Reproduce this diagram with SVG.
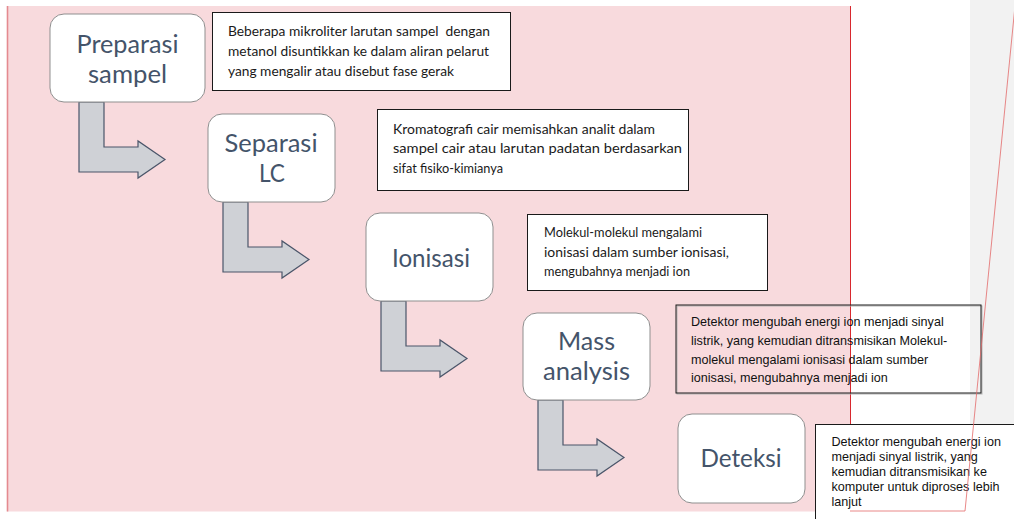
<svg xmlns="http://www.w3.org/2000/svg" xmlns:xlink="http://www.w3.org/1999/xlink" width="1014" height="519" viewBox="0 0 1014 519">
<defs>
<style>
.node{fill:#ffffff;stroke:#8f8f8f;stroke-width:1}
.lbl{font-family:Lato,"Open Sans",sans-serif;font-size:24.5px;fill:#44546a;text-anchor:middle}
.tb{fill:#ffffff;stroke:#1a1a1a;stroke-width:1}
.tc{font-family:Lato,"Open Sans",sans-serif;font-size:14px;fill:#1a1a1a}
.ta{font-family:"Liberation Sans",Arial,sans-serif;font-size:12.6px;fill:#111111}
.arr{fill:#cfd1d6;stroke:#4a5569;stroke-width:1.2;stroke-linejoin:miter}
</style>
<path id="bent" d="M0,0 H25 V45 H59 V39 L86,57.5 L59,76 V70 H0 Z"/>
</defs>
<rect x="0" y="0" width="1014" height="519" fill="#ffffff"/>
<rect x="970" y="0" width="44" height="424" fill="#f2f2f2"/>
<rect x="7" y="6" width="843" height="505.5" fill="#f8dadd"/>
<line x1="7.5" y1="6" x2="7.5" y2="511.5" stroke="#e48a90" stroke-width="1.6"/>
<line x1="850.5" y1="6" x2="850.5" y2="511" stroke="#d8282e" stroke-width="1"/>
<g id="connectors">
<use xlink:href="#bent" class="arr" transform="translate(79,102)"/>
<use xlink:href="#bent" class="arr" transform="translate(223,202)"/>
<use xlink:href="#bent" class="arr" transform="translate(381,301)"/>
<use xlink:href="#bent" class="arr" transform="translate(538,400)"/>
</g>
<g id="n1">
<rect class="node" x="50" y="14" width="155" height="88" rx="14"/>
<text class="lbl" x="127.5" y="53" textLength="102" lengthAdjust="spacingAndGlyphs">Preparasi</text>
<text class="lbl" x="127.5" y="83" textLength="79" lengthAdjust="spacingAndGlyphs">sampel</text>
</g>
<g id="n2">
<rect class="node" x="208" y="114" width="127" height="88" rx="14"/>
<text class="lbl" x="271" y="152" textLength="93" lengthAdjust="spacingAndGlyphs">Separasi</text>
<text class="lbl" x="272" y="182" textLength="26" lengthAdjust="spacingAndGlyphs">LC</text>
</g>
<g id="n3">
<rect class="node" x="366" y="213" width="127" height="88" rx="14"/>
<text class="lbl" x="431" y="267" textLength="78" lengthAdjust="spacingAndGlyphs">Ionisasi</text>
</g>
<g id="n4">
<rect class="node" x="523" y="313" width="127" height="87" rx="14"/>
<text class="lbl" x="586.5" y="350" textLength="57" lengthAdjust="spacingAndGlyphs">Mass</text>
<text class="lbl" x="586.5" y="380" textLength="87" lengthAdjust="spacingAndGlyphs">analysis</text>
</g>
<g id="n5">
<rect class="node" x="678" y="414" width="127" height="89" rx="14"/>
<text class="lbl" x="741" y="466.5" textLength="81" lengthAdjust="spacingAndGlyphs">Deteksi</text>
</g>
<g id="t1">
<rect class="tb" x="212.5" y="12.5" width="298" height="78"/>
<text class="tc" x="228" y="36" textLength="262" lengthAdjust="spacingAndGlyphs" xml:space="preserve">Beberapa mikroliter larutan sampel  dengan</text>
<text class="tc" x="228" y="55.5" textLength="261" lengthAdjust="spacingAndGlyphs">metanol disuntikkan ke dalam aliran pelarut</text>
<text class="tc" x="228" y="75.5" textLength="226" lengthAdjust="spacingAndGlyphs">yang mengalir atau disebut fase gerak</text>
</g>
<g id="t2">
<rect class="tb" x="377.5" y="109.5" width="311" height="81"/>
<text class="tc" x="393" y="134" textLength="262" lengthAdjust="spacingAndGlyphs">Kromatografi cair memisahkan analit dalam</text>
<text class="tc" x="393" y="153" textLength="289" lengthAdjust="spacingAndGlyphs">sampel cair atau larutan padatan berdasarkan</text>
<text class="tc" x="393" y="172.5" textLength="110" lengthAdjust="spacingAndGlyphs">sifat fisiko-kimianya</text>
</g>
<g id="t3">
<rect class="tb" x="527.5" y="214.5" width="240" height="76"/>
<text class="tc" x="544" y="237" textLength="158" lengthAdjust="spacingAndGlyphs">Molekul-molekul mengalami</text>
<text class="tc" x="544" y="256.5" textLength="185" lengthAdjust="spacingAndGlyphs">ionisasi dalam sumber ionisasi,</text>
<text class="tc" x="544" y="275.5" textLength="146" lengthAdjust="spacingAndGlyphs">mengubahnya menjadi ion</text>
</g>
<g id="t4">
<rect x="677" y="306" width="305" height="88" fill="none" stroke="#b4b4b4" stroke-width="1"/>
<rect x="676" y="305" width="305" height="88" fill="none" stroke="#1a1a1a" stroke-width="1"/>
<text class="ta" x="691" y="326">Detektor mengubah energi ion menjadi sinyal</text>
<text class="ta" x="691" y="344.5">listrik, yang kemudian ditransmisikan Molekul-</text>
<text class="ta" x="691" y="364">molekul mengalami ionisasi dalam sumber</text>
<text class="ta" x="691" y="382">ionisasi, mengubahnya menjadi ion</text>
</g>
<g id="t5">
<rect class="tb" x="815.5" y="424.5" width="210" height="110"/>
<text class="ta" x="831.5" y="445.5">Detektor mengubah energi ion</text>
<text class="ta" x="831.5" y="460.5">menjadi sinyal listrik, yang</text>
<text class="ta" x="831.5" y="475.5">kemudian ditransmisikan ke</text>
<text class="ta" x="831.5" y="490.5">komputer untuk diproses lebih</text>
<text class="ta" x="831.5" y="506">lanjut</text>
</g>
<polyline points="1015,6 965,511 850,511" fill="none" stroke="#e36a6a" stroke-width="0.8"/>
</svg>
